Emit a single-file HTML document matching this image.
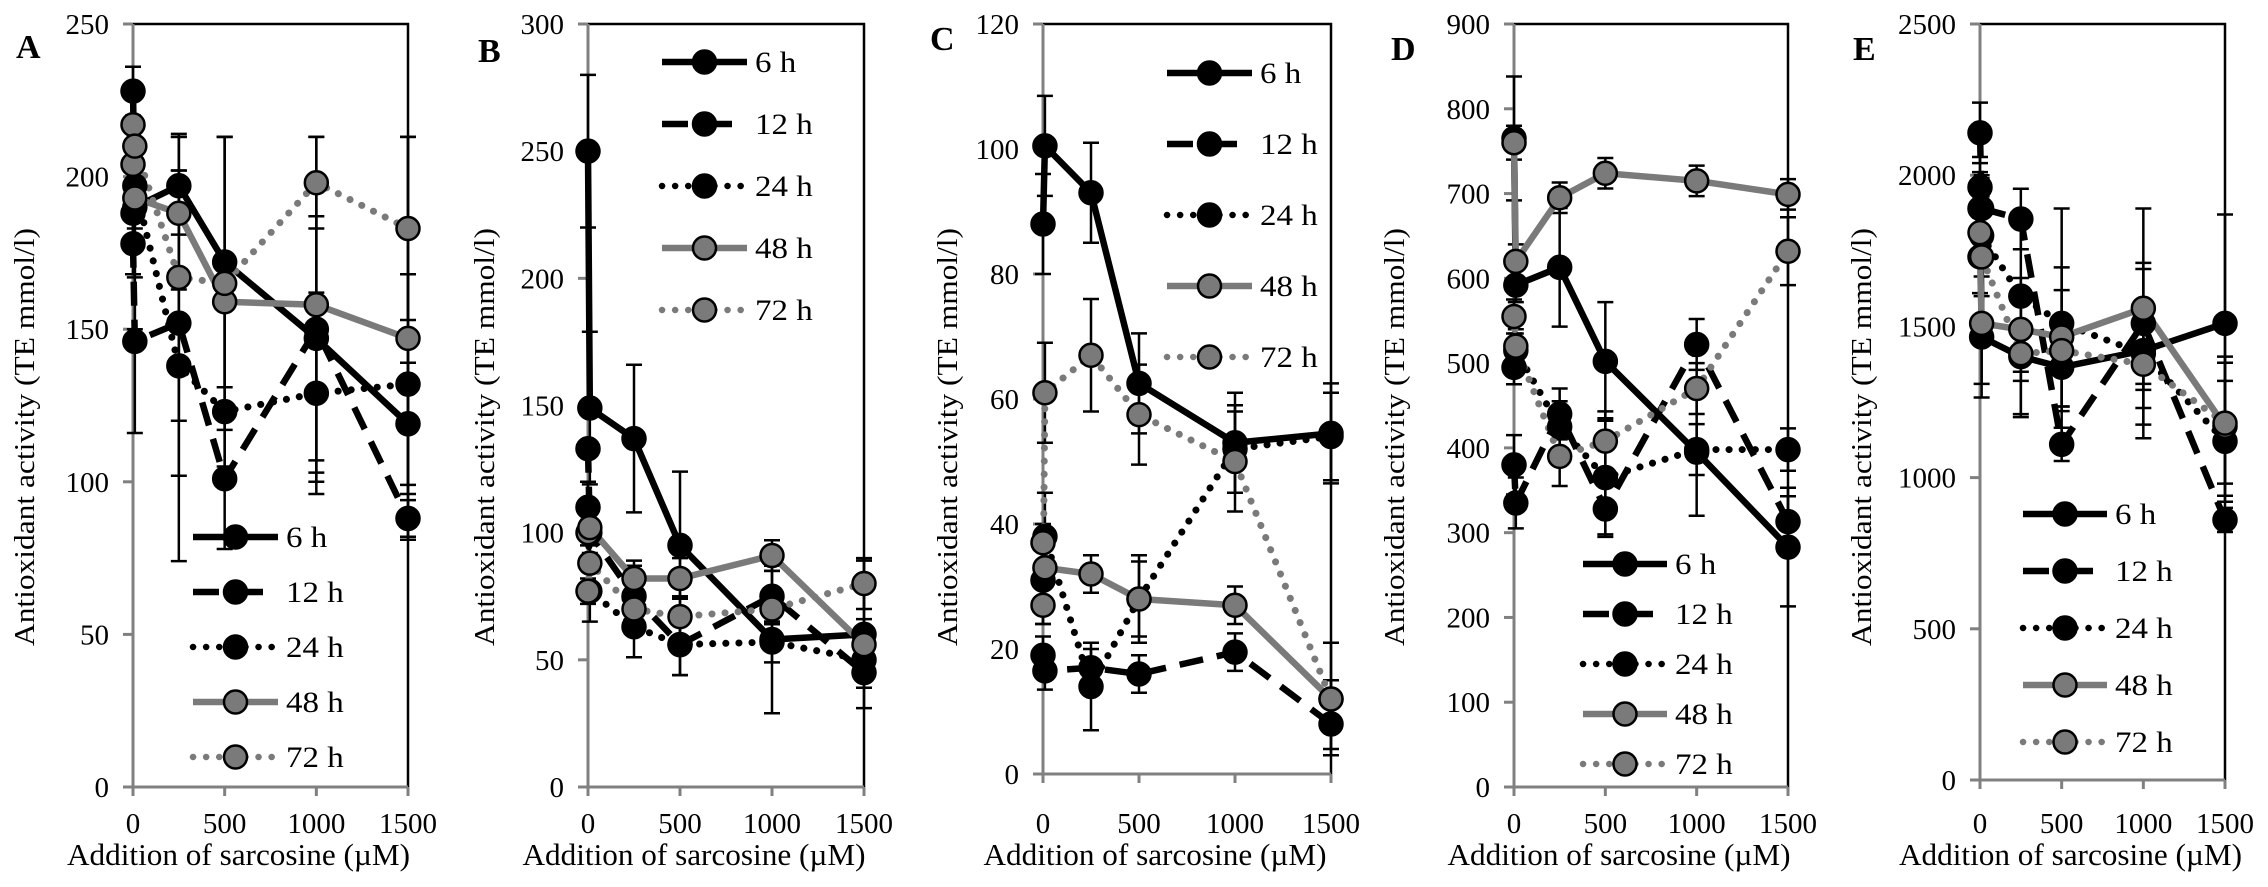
<!DOCTYPE html>
<html><head><meta charset="utf-8">
<style>
html,body{margin:0;padding:0;background:#fff;}
svg{display:block;font-family:"Liberation Serif",serif;}
</style></head>
<body>
<svg id="chart" width="2268" height="887" viewBox="0 0 2268 887" xmlns="http://www.w3.org/2000/svg"></svg>
<script>
// shared categories (sarcosine additions, µM)
const xValues = [0, 10, 250, 500, 1000, 1500];
const xTicks = [0, 500, 1000, 1500];
const seriesNames = ["6 h", "12 h", "24 h", "48 h", "72 h"];

// Panel A
const aTicks = [0, 50, 100, 150, 200, 250];
const a6 = [228, 190, 197, 172, 147, 119];
const a12 = [178, 146, 152, 101, 150, 88];
const a24 = [188, 197, 138, 123, 129, 132];
const a48 = [204, 193, 188, 159, 158, 147];
const a72 = [217, 210, 167, 165, 198, 183];
const aErr = [[8, 40, 16, 41, 40, 20], [10, 30, 50, 0, 50, 6], [8, 30, 64, 45, 33, 36], [8, 10, 25, 54, 55, 66], [0, 0, 47, 48, 15, 30]];

// Panel B
const bTicks = [0, 50, 100, 150, 200, 250, 300];
const b6 = [250, 149, 137, 95, 58, 60];
const b12 = [133, 100, 75, 56, 75, 45];
const b24 = [110, 77, 63, 56, 57, 50];
const b48 = [100, 102, 82, 82, 91, 56];
const b72 = [77, 88, 70, 67, 70, 80];
const bErr = [[30, 30, 29, 29, 29, 29], [0, 12, 12, 12, 10, 6], [10, 12, 12, 12, 8, 5], [5, 10, 7, 8, 6, 10], [5, 10, 8, 8, 6, 10]];

// Panel C
const cTicks = [0, 20, 40, 60, 80, 100, 120];
const c6 = [88, 100.5, 93, 62.5, 53, 54.5];
const c12 = [19, 16.5, 17, 16, 19.5, 8];
const c24 = [31, 38, 14, 28, 52, 54];
const c48 = [37, 33, 32, 28, 27, 12];
const c72 = [27, 61, 67, 57.5, 50, 12];
const cErr = [[8, 8, 8, 8, 8, 8], [3, 3, 3, 3, 3, 4], [7, 7, 7, 7, 7, 7], [3, 3, 3, 6, 3, 3], [3, 8, 9, 8, 8, 9]];

// Panel D
const dTicks = [0, 100, 200, 300, 400, 500, 600, 700, 800, 900];
const d6 = [765, 592, 613, 502, 395, 283];
const d12 = [380, 335, 440, 328, 522, 313];
const d24 = [495, 515, 425, 365, 398, 398];
const d48 = [760, 620, 695, 724, 715, 699];
const d72 = [555, 520, 390, 408, 470, 632];
const dErr = [[73, 20, 70, 70, 75, 70], [35, 30, 30, 30, 30, 30], [20, 20, 30, 70, 30, 25], [20, 20, 18, 18, 18, 18], [20, 20, 35, 35, 30, 40]];

// Panel E
const eTicks = [0, 500, 1000, 1500, 2000, 2500];
const e6 = [1960, 1465, 1400, 1365, 1420, 1510];
const e12 = [2140, 1890, 1855, 1110, 1510, 860];
const e24 = [1890, 1800, 1600, 1510, 1410, 1120];
const e48 = [1730, 1510, 1490, 1465, 1560, 1170];
const e72 = [1810, 1730, 1410, 1420, 1375, 1180];
const eErr = [[100, 200, 200, 130, 130, 360], [100, 100, 100, 55, 200, 40], [100, 200, 250, 380, 280, 200], [200, 200, 170, 230, 330, 230], [200, 200, 200, 200, 200, 200]];

const panels = [
  {id: "a", letter: "A", ticks: aTicks, max: 250, series: [a6, a12, a24, a48, a72], err: aErr,
   x0: 133, x1: 408, top: 24, bot: 787, lx: 16, ly: 58, tx: 25, ttlY: 437, leg: {x1: 193, x2: 278, y: 537, dy: 55}},
  {id: "b", letter: "B", ticks: bTicks, max: 300, series: [b6, b12, b24, b48, b72], err: bErr,
   x0: 588, x1: 864, top: 24, bot: 787, lx: 478, ly: 62, tx: 485, ttlY: 437, leg: {x1: 662, x2: 747, y: 62, dy: 62}},
  {id: "c", letter: "C", ticks: cTicks, max: 120, series: [c6, c12, c24, c48, c72], err: cErr,
   x0: 1043, x1: 1331, top: 24, bot: 774, lx: 930, ly: 50, tx: 948, ttlY: 437, leg: {x1: 1167, x2: 1252, y: 73, dy: 71}},
  {id: "d", letter: "D", ticks: dTicks, max: 900, series: [d6, d12, d24, d48, d72], err: dErr,
   x0: 1514, x1: 1788, top: 24, bot: 787, lx: 1391, ly: 60, tx: 1395, ttlY: 437, leg: {x1: 1583, x2: 1667, y: 564, dy: 50}},
  {id: "e", letter: "E", ticks: eTicks, max: 2500, series: [e6, e12, e24, e48, e72], err: eErr,
   x0: 1980, x1: 2225, top: 24, bot: 780, lx: 1853, ly: 60, tx: 1862, ttlY: 437, leg: {x1: 2023, x2: 2107, y: 514, dy: 57}}
];

const styles = [
  {color: "#000", dash: null, fill: "#000", cap: "butt"},
  {color: "#000", dash: "24 14", fill: "#000", cap: "butt"},
  {color: "#000", dash: "0.1 13", fill: "#000", cap: "round"},
  {color: "#7a7a7a", dash: null, fill: "#7a7a7a", cap: "butt"},
  {color: "#7a7a7a", dash: "0.1 13", fill: "#7a7a7a", cap: "round"}
];

const NS = "http://www.w3.org/2000/svg";
const svg = document.getElementById("chart");
function mk(tag, attrs, parent) {
  const e = document.createElementNS(NS, tag);
  for (const k in attrs) e.setAttribute(k, attrs[k]);
  (parent || svg).appendChild(e);
  return e;
}
function wtext(x, y, anchor, size, str, parent, sx) {
  const t = mk("text", {x: 0, y: 0, "text-anchor": anchor, "font-size": size,
    transform: `translate(${x},${y}) scale(${sx || 1},1)`}, parent);
  t.textContent = str;
  return t;
}

panels.forEach(p => {
  const g = mk("g", {});
  
  
  const xs = v => p.x0 + (v / 1500) * (p.x1 - p.x0);
  const ys = v => p.bot - (v / p.max) * (p.bot - p.top);

  const frame = mk("path", {d: `M${p.x0},${p.top} H${p.x1} V${p.bot}`, fill: "none", stroke: "#000", "stroke-width": 2.5}, g);
  
  
  const yAxis = mk("line", {x1: p.x0, y1: p.top, x2: p.x0, y2: p.bot, stroke: "#808080", "stroke-width": 3}, g);
  
  
  const xAxis = mk("line", {x1: p.x0 - 10, y1: p.bot, x2: p.x1, y2: p.bot, stroke: "#808080", "stroke-width": 3}, g);
  
  

  p.ticks.forEach(t => {
    const y = ys(t);
    mk("line", {x1: p.x0 - 10, y1: y, x2: p.x0, y2: y, stroke: "#808080", "stroke-width": 3}, g);
    const tl = wtext(p.x0 - 24, y + 10, "end", 29, String(t), g);
    
    
  });
  xTicks.forEach(t => {
    const x = xs(t);
    mk("line", {x1: x, y1: p.bot, x2: x, y2: p.bot + 9, stroke: "#808080", "stroke-width": 3}, g);
    const tl = wtext(x, 833, "middle", 29, String(t), g);
    
    
  });

  const xt = mk("text", {x: (p.x0 + p.x1) / 2 - 32, y: 865, "text-anchor": "middle", "font-size": 31, textLength: 343, lengthAdjust: "spacingAndGlyphs"}, g);
  xt.textContent = "Addition of sarcosine (\u00b5M)";
  
  

  const yt = mk("text", {x: 0, y: 0, "text-anchor": "middle", "font-size": 28, textLength: 418, lengthAdjust: "spacingAndGlyphs",
    transform: `translate(${p.tx + 9},${p.ttlY}) rotate(-90)`}, g);
  yt.textContent = "Antioxidant activity (TE mmol/l)";
  
  

  const lt = mk("text", {x: p.lx, y: p.ly, "font-size": 34, "font-weight": "bold"}, g);
  lt.textContent = p.letter;
  
  

  p.series.forEach((vals, si) => {
    vals.forEach((v, i) => {
      const e = p.err[si][i];
      if (!e) return;
      const x = xs(xValues[i]);
      const y1 = ys(Math.min(p.max, v + e)), y2 = ys(Math.max(0, v - e));
      const eb = mk("path", {d: `M${x},${y1} V${y2} M${x - 8},${y1} H${x + 8} M${x - 8},${y2} H${x + 8}`, stroke: "#000", "stroke-width": 2.5, fill: "none"}, g);
      
      
    });
  });

  p.series.forEach((vals, si) => {
    const s = styles[si];
    const d = vals.map((v, i) => (i ? "L" : "M") + xs(xValues[i]) + "," + ys(v)).join(" ");
    const ln = mk("path", {d: d, fill: "none", stroke: s.color, "stroke-width": si === 2 || si === 4 ? 7 : 6.5,
      "stroke-linecap": s.cap, "stroke-linejoin": "round"}, g);
    if (s.dash) ln.setAttribute("stroke-dasharray", s.dash);
    
    
  });
  p.series.forEach((vals, si) => {
    const s = styles[si];
    vals.forEach((v, i) => {
      const c = mk("circle", {cx: xs(xValues[i]), cy: ys(v), r: 11.5, fill: s.fill, stroke: "#000", "stroke-width": 2.5}, g);
      
      
    });
  });

  const lg = mk("g", {}, g);
  
  
  seriesNames.forEach((nm, si) => {
    const s = styles[si];
    const y = p.leg.y + si * p.leg.dy;
    const eg = mk("g", {}, lg);
    
    
    const l = mk("line", {x1: p.leg.x1, y1: y, x2: p.leg.x2, y2: y, stroke: s.color, "stroke-width": 6.5, "stroke-linecap": s.cap}, eg);
    if (s.dash) l.setAttribute("stroke-dasharray", si === 1 ? "26 18" : s.dash);
    mk("circle", {cx: (p.leg.x1 + p.leg.x2) / 2, cy: y, r: 11.5, fill: s.fill, stroke: "#000", "stroke-width": 2.5}, eg);
    wtext(p.leg.x2 + 8, y + 10, "start", 30, nm, eg, 1.1);
  });
});
</script>
</body></html>
